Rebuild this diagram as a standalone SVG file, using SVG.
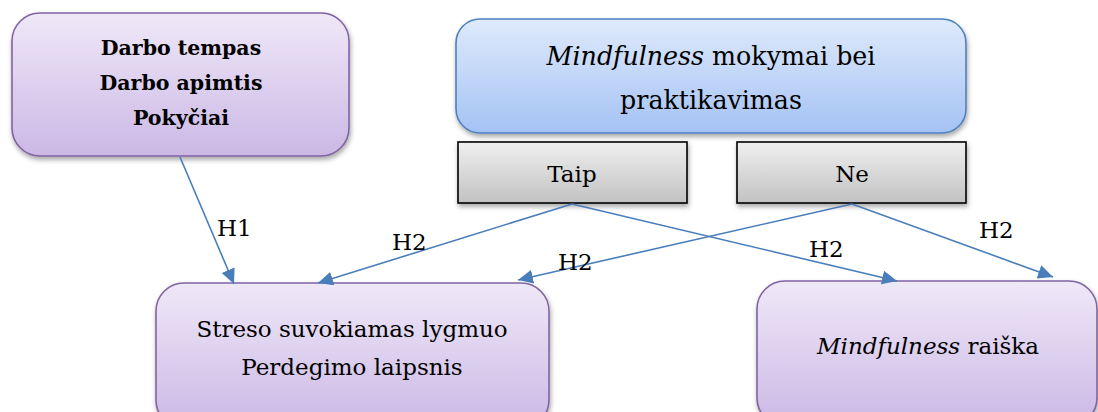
<svg xmlns="http://www.w3.org/2000/svg" width="1098" height="412" viewBox="0 0 1098 412">
<defs>
<linearGradient id="gPurple" x1="0" y1="0" x2="0" y2="1">
<stop offset="0" stop-color="#efe8f8"/>
<stop offset="1" stop-color="#cbb8e5"/>
</linearGradient>
<linearGradient id="gBlue" x1="0" y1="0" x2="0" y2="1">
<stop offset="0" stop-color="#dfeafb"/>
<stop offset="1" stop-color="#a4c2f4"/>
</linearGradient>
<linearGradient id="gGray" x1="0" y1="0" x2="0" y2="1">
<stop offset="0" stop-color="#efefef"/>
<stop offset="1" stop-color="#c2c2c2"/>
</linearGradient>
<filter id="shadow" x="-10%" y="-10%" width="120%" height="130%">
<feDropShadow dx="1" dy="3" stdDeviation="2.5" flood-color="#000" flood-opacity="0.35"/>
</filter>
<marker id="arrow" markerUnits="userSpaceOnUse" markerWidth="16" markerHeight="14" refX="15" refY="7" orient="auto">
<path d="M0,0 L15,7 L0,14 z" fill="#4a7ebb"/>
</marker>
</defs>
<style>
.purple{fill:url(#gPurple);stroke:#8064a2;stroke-width:1.6;filter:url(#shadow)}
.blue{fill:url(#gBlue);stroke:#4f81bd;stroke-width:1.6;filter:url(#shadow)}
.gray{fill:url(#gGray);stroke:#000;stroke-width:1.6;filter:url(#shadow)}
.b{font-weight:bold;font-size:20.5px}
.c{text-anchor:middle}
.big{font-size:25.3px}
.conn line{stroke:#4a7ebb;stroke-width:1.6;marker-end:url(#arrow)}
</style>
<rect width="1098" height="412" fill="#fff"/>

<g font-family="DejaVu Serif, serif" font-size="23" fill="#000">
<g id="factors">
<rect class="purple" x="12" y="13" width="337" height="143" rx="28"/>
<text class="b c" x="181" y="55">Darbo tempas</text>
<text class="b c" x="181" y="90">Darbo apimtis</text>
<text class="b c" x="181" y="125">Pokyčiai</text>
</g>

<g id="mindfulness-training">
<rect class="blue" x="456" y="19" width="510" height="114" rx="24"/>
<text class="c big" x="711" y="65"><tspan font-style="italic">Mindfulness</tspan> mokymai bei</text>
<text class="c big" x="711" y="109">praktikavimas</text>
</g>

<g id="taip">
<rect class="gray" x="458" y="142" width="229" height="61"/>
<text class="c" x="572" y="182">Taip</text>
</g>

<g id="ne">
<rect class="gray" x="737" y="142" width="229" height="61"/>
<text class="c" x="852" y="182">Ne</text>
</g>

<g id="stress">
<rect class="purple" x="156" y="283" width="393" height="145" rx="28"/>
<text class="c" x="352" y="337">Streso suvokiamas lygmuo</text>
<text class="c" x="352" y="375">Perdegimo laipsnis</text>
</g>

<g id="mindfulness-expression">
<rect class="purple" x="757" y="281" width="340" height="145" rx="28"/>
<text class="c" x="928" y="354"><tspan font-style="italic">Mindfulness</tspan> raiška</text>
</g>

<g id="connectors" class="conn">
<line x1="180" y1="157" x2="234" y2="284"/>
<line x1="572" y1="204" x2="318" y2="283"/>
<line x1="572" y1="204" x2="897" y2="281"/>
<line x1="852" y1="204" x2="518" y2="280"/>
<line x1="852" y1="204" x2="1053" y2="277"/>
<text x="217" y="236">H1</text>
<text x="392" y="250">H2</text>
<text x="558" y="270">H2</text>
<text x="809" y="257">H2</text>
<text x="979" y="238">H2</text>
</g>
</g>
</svg>
